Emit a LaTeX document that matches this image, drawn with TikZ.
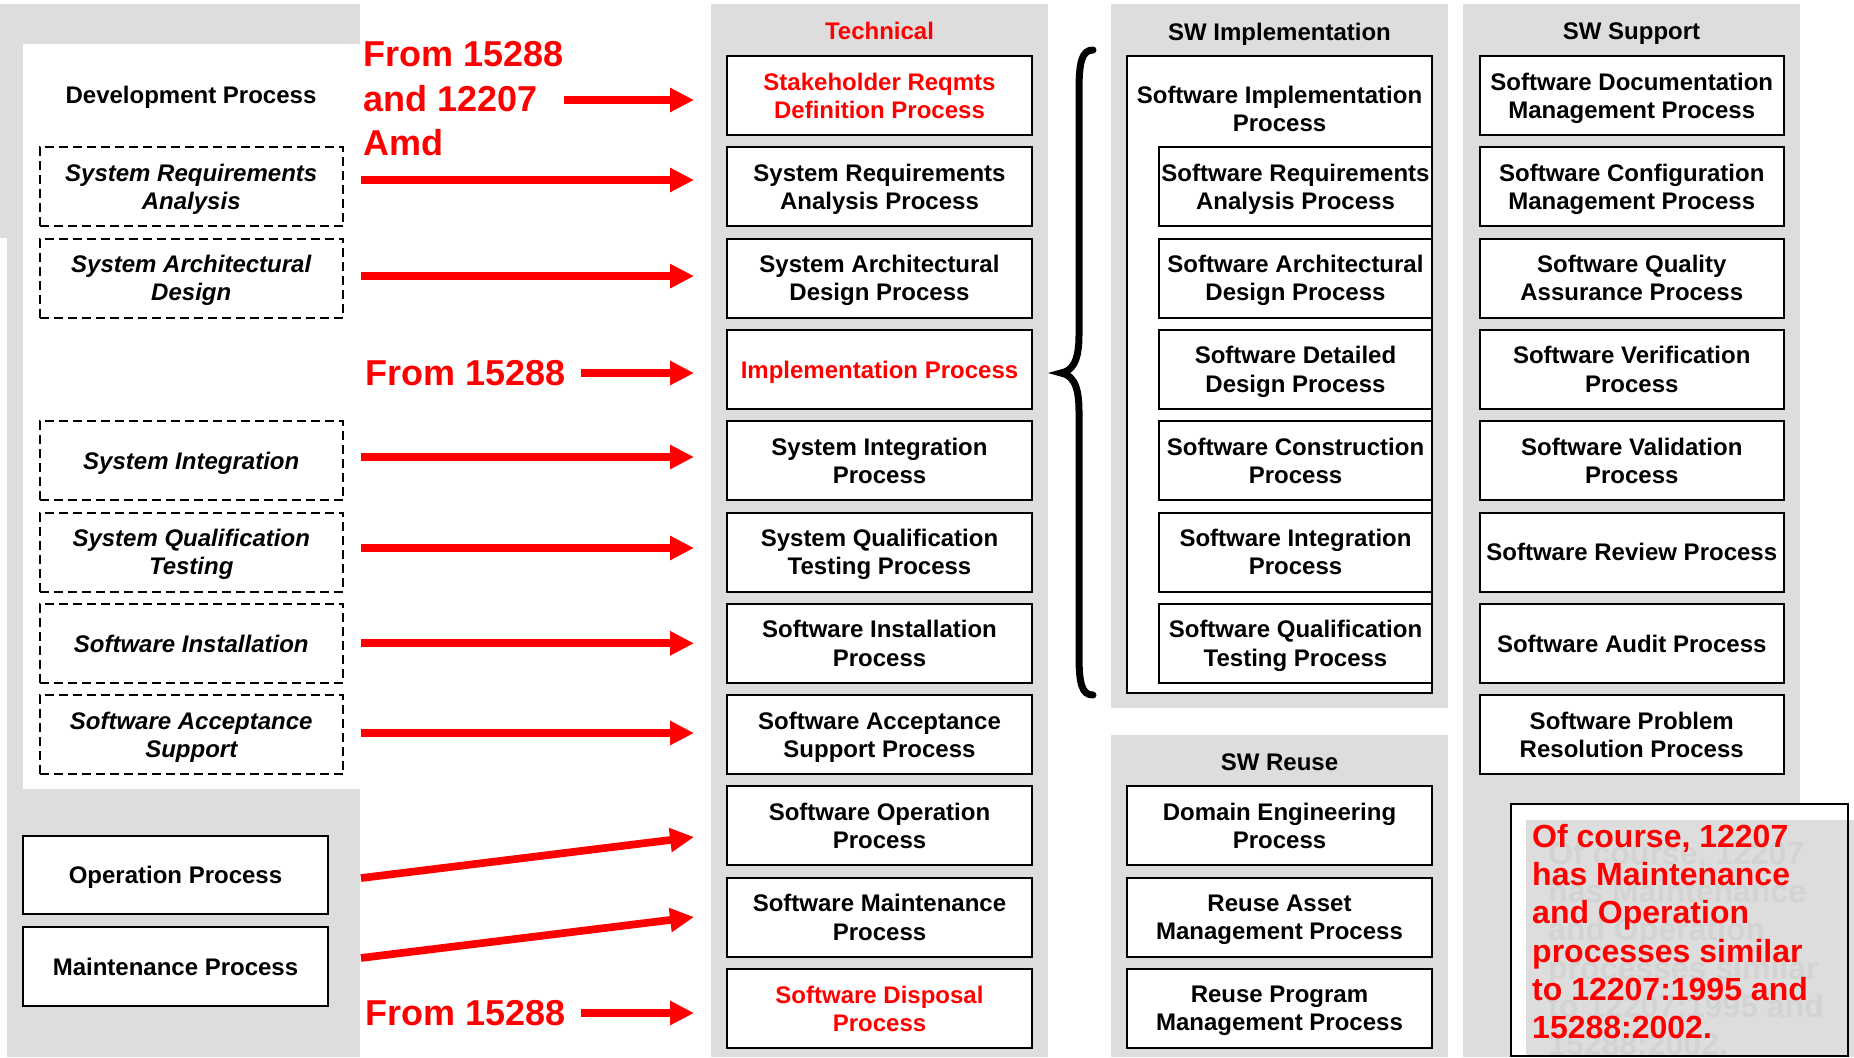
\documentclass[tikz,border=0pt]{standalone}
\usepackage{fontspec}
\setmainfont{Liberation Sans}
\usetikzlibrary{arrows.meta,calc}
\definecolor{panelgray}{RGB}{221,221,221}
\definecolor{ghostgray}{RGB}{211,211,211}
\definecolor{pured}{RGB}{255,0,0}
\newcommand\boxfnt{\bfseries\fontsize{24}{28.3}\selectfont}
\newcommand\bigfnt{\bfseries\fontsize{36}{44.5}\selectfont}
\newcommand\notefnt{\bfseries\fontsize{32}{38.2}\selectfont}
\begin{document}
\begin{tikzpicture}[x=1pt,y=-1pt,
  pbox/.style={draw=black, line width=2pt, fill=white, minimum width=305pt, minimum height=79pt, inner sep=0pt, align=center, font=\boxfnt, text depth=0pt},
  dbox/.style={pbox, dash pattern=on 9pt off 5pt, font=\boxfnt\itshape, minimum width=303.5pt},
  ibox/.style={pbox, minimum width=273pt},
  hdr/.style={font=\boxfnt, inner sep=0pt, text depth=0pt},
  biglab/.style={font=\bigfnt, text=pured, inner sep=0pt, align=left, anchor=west},
  redarrow/.style={draw=pured, line width=7.7pt, -{Triangle[length=24pt,width=23pt]}},
  notetext/.style={font=\notefnt, inner sep=0pt, align=left, anchor=north west}]
\useasboundingbox (0,0) rectangle (1854,1057);
% panels
\fill[panelgray] (0,4) rectangle (360,238);
\fill[panelgray] (7,238) rectangle (360,1057);
\fill[white] (23,44) rectangle (360,789);
\fill[panelgray] (711,4) rectangle (1048,1057);
\fill[panelgray] (1111,4) rectangle (1448,708);
\fill[panelgray] (1111,735) rectangle (1448,1057);
\fill[panelgray] (1463,4) rectangle (1800,1057);
% headers
\node[hdr, text=pured] (hTech) at (879.5,31) {Technical};
\node[hdr] (hImpl) at (1279.5,32) {SW Implementation};
\node[hdr] (hSupp) at (1631.5,31) {SW Support};
\node[hdr] (hReuse) at (1279.5,762) {SW Reuse};
% left panel
\node[hdr] (dev) at (191,95) {Development Process};
\node[dbox] (d1) at (191.25,186.8) {System Requirements\\Analysis};
\node[dbox] (d2) at (191.25,278.1) {System Architectural\\Design};
\node[dbox] (d4) at (191.25,460.7) {System Integration};
\node[dbox] (d5) at (191.25,552.0) {System Qualification\\Testing};
\node[dbox] (d6) at (191.25,643.3) {Software Installation};
\node[dbox] (d7) at (191.25,734.6) {Software Acceptance\\Support};
\node[pbox, minimum height=78pt] (op) at (175.5,875) {Operation Process};
\node[pbox] (mt) at (175.5,966.5) {Maintenance Process};
% technical
\node[pbox, text=pured] (t0) at (879.5,95.5) {Stakeholder Reqmts\\Definition Process};
\node[pbox] (t1) at (879.5,186.8) {System Requirements\\Analysis Process};
\node[pbox] (t2) at (879.5,278.1) {System Architectural\\Design Process};
\node[pbox, text=pured] (t3) at (879.5,369.4) {Implementation Process};
\node[pbox] (t4) at (879.5,460.7) {System Integration\\Process};
\node[pbox] (t5) at (879.5,552.0) {System Qualification\\Testing Process};
\node[pbox] (t6) at (879.5,643.3) {Software Installation\\Process};
\node[pbox] (t7) at (879.5,734.6) {Software Acceptance\\Support Process};
\node[pbox] (t8) at (879.5,825.9) {Software Operation\\Process};
\node[pbox] (t9) at (879.5,917.2) {Software Maintenance\\Process};
\node[pbox, text=pured] (t10) at (879.5,1008.5) {Software Disposal\\Process};
% SW implementation
\node[pbox, minimum height=637pt] (implOuter) at (1279.5,374.5) {};
\node[hdr, align=center] (implTitle) at (1279.5,108.5) {Software Implementation\\Process};
\node[ibox] (i1) at (1295.5,186.8) {Software Requirements\\Analysis Process};
\node[ibox] (i2) at (1295.5,278.1) {Software Architectural\\Design Process};
\node[ibox] (i3) at (1295.5,369.4) {Software Detailed\\Design Process};
\node[ibox] (i4) at (1295.5,460.7) {Software Construction\\Process};
\node[ibox] (i5) at (1295.5,552.0) {Software Integration\\Process};
\node[ibox] (i6) at (1295.5,643.3) {Software Qualification\\Testing Process};
% SW reuse
\node[pbox] (r1) at (1279.5,825.9) {Domain Engineering\\Process};
\node[pbox] (r2) at (1279.5,917.2) {Reuse Asset\\Management Process};
\node[pbox] (r3) at (1279.5,1008.5) {Reuse Program\\Management Process};
% SW support
\node[pbox, minimum width=304.5pt] (s0) at (1631.75,95.5) {Software Documentation\\Management Process};
\node[pbox, minimum width=304.5pt] (s1) at (1631.75,186.8) {Software Configuration\\Management Process};
\node[pbox, minimum width=304.5pt] (s2) at (1631.75,278.1) {Software Quality\\Assurance Process};
\node[pbox, minimum width=304.5pt] (s3) at (1631.75,369.4) {Software Verification\\Process};
\node[pbox, minimum width=304.5pt] (s4) at (1631.75,460.7) {Software Validation\\Process};
\node[pbox, minimum width=304.5pt] (s5) at (1631.75,552.0) {Software Review Process};
\node[pbox, minimum width=304.5pt] (s6) at (1631.75,643.3) {Software Audit Process};
\node[pbox, minimum width=304.5pt] (s7) at (1631.75,734.6) {Software Problem\\Resolution Process};
% brace
\draw[line width=7pt, line cap=round] (1093,50) .. controls (1082,50) and (1079,62) .. (1079,90) -- (1079,335) .. controls (1079,362) and (1072,371) .. (1061,373) .. controls (1072,375) and (1079,384) .. (1079,411) -- (1079,656) .. controls (1079,684) and (1082,695) .. (1093,695);
% labels
\node[biglab] (lab1) at (363,99) {From 15288\\and 12207\\Amd};
\node[biglab] (lab2) at (365,373) {From 15288};
\node[biglab] (lab3) at (365,1013) {From 15288};
% arrows
\draw[redarrow, shorten >=32pt] ($(lab1.east)+(0,1)$) -- ($(lab1.east -| t0.west)+(0,1)$);
\draw[redarrow, shorten <=17pt, shorten >=32pt] ($(d1.east)+(0,-6.8)$) -- ($(d1.east -| t1.west)+(0,-6.8)$);
\draw[redarrow, shorten <=17pt, shorten >=32pt] ($(d2.east)+(0,-2)$) -- ($(d2.east -| t2.west)+(0,-2)$);
\draw[redarrow, shorten <=15pt, shorten >=32pt] (lab2.east) -- (lab2.east -| t3.west);
\draw[redarrow, shorten <=17pt, shorten >=32pt] ($(d4.east)+(0,-3.7)$) -- ($(d4.east -| t4.west)+(0,-3.7)$);
\draw[redarrow, shorten <=17pt, shorten >=32pt] ($(d5.east)+(0,-4)$) -- ($(d5.east -| t5.west)+(0,-4)$);
\draw[redarrow, shorten <=17pt, shorten >=32pt] (d6.east) -- (d6.east -| t6.west);
\draw[redarrow, shorten <=17pt, shorten >=32pt] ($(d7.east)+(0,-1.6)$) -- ($(d7.east -| t7.west)+(0,-1.6)$);
\draw[redarrow, shorten <=32.2pt, shorten >=32.2pt] ($(op.east)+(0,7)$) -- ($(t8.west)+(0,7.2)$);
\draw[redarrow, shorten <=32.2pt, shorten >=32.2pt] ($(mt.east)+(0,-4.6)$) -- ($(t9.west)+(0,-4.1)$);
\draw[redarrow, shorten <=15pt, shorten >=32pt] (lab3.east) -- (lab3.east -| t10.west);
% note
\fill[white] (1511,804) rectangle (1848,1056);
\fill[panelgray] (1526,820) rectangle (1854,1057);
\begin{scope}
\clip (1526,820) rectangle (1854,1057);
\node[notetext, text=ghostgray] (noteghost) at (1548,841) {Of course, 12207\\has Maintenance\\and Operation\\processes similar\\to 12207:1995 and\\15288:2002.};
\end{scope}
\node[notetext, text=pured] (note) at (1532,824) {Of course, 12207\\has Maintenance\\and Operation\\processes similar\\to 12207:1995 and\\15288:2002.};
\draw[line width=2pt] (1511,804) rectangle (1848,1056);
\end{tikzpicture}
\end{document}
